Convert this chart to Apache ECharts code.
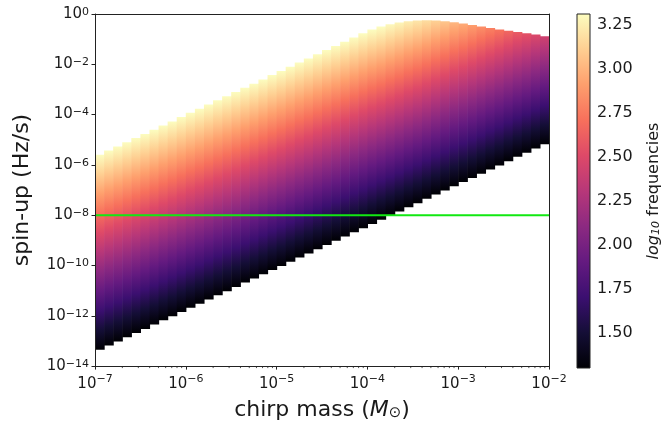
<!DOCTYPE html>
<html>
<head>
<meta charset="utf-8">
<script src="https://cdn.jsdelivr.net/npm/echarts@6/dist/echarts.min.js"></script>
<style>
html, body { margin: 0; padding: 0; background: #fff; }
#chart { width: 663px; height: 426px; }
</style>
</head>
<body>
<div id="chart"></div>
<script>
// log10 chirp mass, left edge of every column (0.1 dex wide)
var massLeft = [-7.0, -6.9, -6.8, -6.7, -6.6, -6.5, -6.4, -6.3, -6.2, -6.1,
  -6.0, -5.9, -5.8, -5.7, -5.6, -5.5, -5.4, -5.3, -5.2, -5.1,
  -5.0, -4.9, -4.8, -4.7, -4.6, -4.5, -4.4, -4.3, -4.2, -4.1,
  -4.0, -3.9, -3.8, -3.7, -3.6, -3.5, -3.4, -3.3, -3.2, -3.1,
  -3.0, -2.9, -2.8, -2.7, -2.6, -2.5, -2.4, -2.3, -2.2, -2.1];
var massStep = 0.1;
// log10 spin-up at the bottom of each column (lowest frequency)
var spinLow = [-13.35, -13.18, -13.02, -12.85, -12.68, -12.52, -12.35, -12.18, -12.02, -11.85,
  -11.68, -11.52, -11.35, -11.18, -11.02, -10.85, -10.68, -10.52, -10.35, -10.18,
  -10.02, -9.85, -9.68, -9.52, -9.35, -9.18, -9.02, -8.85, -8.68, -8.52,
  -8.35, -8.18, -8.02, -7.85, -7.68, -7.52, -7.35, -7.18, -7.02, -6.85,
  -6.68, -6.52, -6.35, -6.18, -6.02, -5.85, -5.68, -5.52, -5.35, -5.18];
// log10 spin-up at the top of each column
var spinHigh = [-5.60, -5.43, -5.27, -5.10, -4.93, -4.77, -4.60, -4.43, -4.27, -4.10,
  -3.93, -3.77, -3.60, -3.43, -3.27, -3.10, -2.93, -2.77, -2.60, -2.43,
  -2.27, -2.10, -1.93, -1.77, -1.60, -1.43, -1.27, -1.10, -0.93, -0.77,
  -0.62, -0.50, -0.41, -0.34, -0.29, -0.26, -0.25, -0.26, -0.29, -0.33,
  -0.38, -0.44, -0.50, -0.56, -0.62, -0.67, -0.72, -0.77, -0.82, -0.88];
// log10 frequency at the top of each column (bottom is always freqMin)
var freqHigh = [3.31, 3.31, 3.31, 3.31, 3.31, 3.31, 3.31, 3.31, 3.31, 3.31,
  3.31, 3.31, 3.31, 3.31, 3.31, 3.31, 3.31, 3.31, 3.31, 3.31,
  3.31, 3.31, 3.31, 3.31, 3.31, 3.31, 3.31, 3.31, 3.31, 3.31,
  3.31, 3.31, 3.29, 3.27, 3.24, 3.21, 3.17, 3.12, 3.07, 3.01,
  2.96, 2.90, 2.84, 2.78, 2.72, 2.66, 2.60, 2.55, 2.49, 2.43];
var freqMin = 1.3;
var freqMax = 3.31;
var spinCut = -8;
var cbTicks = [1.5, 1.75, 2.0, 2.25, 2.5, 2.75, 3.0, 3.25];

var magma = ['#000004', '#140e36', '#3b0f70', '#641a80', '#8c2981', '#b73779',
  '#de4968', '#f7705c', '#fe9f6d', '#fecf92', '#fcfdbf'];

function hexRgb(h) {
  return [parseInt(h.substr(1, 2), 16), parseInt(h.substr(3, 2), 16), parseInt(h.substr(5, 2), 16)];
}
function magmaAt(t) {
  t = Math.max(0, Math.min(1, t));
  var p = t * (magma.length - 1);
  var i = Math.min(Math.floor(p), magma.length - 2);
  var f = p - i;
  var a = hexRgb(magma[i]), b = hexRgb(magma[i + 1]);
  return 'rgb(' + Math.round(a[0] + (b[0] - a[0]) * f) + ',' +
    Math.round(a[1] + (b[1] - a[1]) * f) + ',' + Math.round(a[2] + (b[2] - a[2]) * f) + ')';
}
// vertical gradient from value vHi (top) down to freqMin (bottom)
function columnFill(vHi) {
  var tHi = (vHi - freqMin) / (freqMax - freqMin);
  var stops = [{offset: 0, color: magmaAt(tHi)}];
  for (var k = magma.length - 1; k >= 0; k--) {
    var t = k / (magma.length - 1);
    if (t < tHi) {
      stops.push({offset: 1 - t / tHi, color: magma[k]});
    }
  }
  return new echarts.graphic.LinearGradient(0, 0, 0, 1, stops);
}

var heatData = massLeft.map(function(m, i) {
  return [m, spinLow[i], spinHigh[i], freqHigh[i]];
});

var minorTicks = [];
for (var n = -7; n < -2; n++) {
  for (var k = 2; k < 10; k++) minorTicks.push([n + Math.log10(k)]);
}

var textColor = '#1a1a1a';
var font = 'DejaVu Sans';

function powLabel(v) {
  var e = Math.round(v);
  return '10{sup|' + (e < 0 ? '\u2212' + (-e) : e) + '}';
}
var powRich = {
  sup: {fontSize: 11, fontFamily: font, color: textColor, verticalAlign: 'top', lineHeight: 12}
};

var myChart = echarts.init(document.getElementById('chart'), null, {renderer: 'canvas'});
var option = {
  animation: false,
  backgroundColor: '#fff',
  textStyle: {fontFamily: font},
  grid: [
    {left: 95, top: 14, width: 454, height: 354, show: false},
    {left: 577, top: 14, width: 18, height: 354, show: false}
  ],
  xAxis: [
    {
      gridIndex: 0, type: 'value', min: -7, max: -2, interval: 1, z: 5,
      axisLine: {onZero: false, lineStyle: {color: '#222', width: 1}},
      axisTick: {length: 3.5, lineStyle: {color: '#222', width: 1}},
      axisLabel: {formatter: powLabel, rich: powRich, fontSize: 15, color: textColor, margin: 8, lineHeight: 20},
      splitLine: {show: false},
      name: 'chirp mass ({i|M}{sub|\u2299})',
      nameLocation: 'middle', nameGap: 30,
      nameTextStyle: {
        fontSize: 22, color: textColor, fontFamily: font,
        rich: {
          i: {fontSize: 22, fontStyle: 'italic', color: textColor, fontFamily: font},
          sub: {fontSize: 15, color: textColor, fontFamily: font, verticalAlign: 'bottom', lineHeight: 18}
        }
      }
    },
    {
      gridIndex: 0, type: 'value', min: -7, max: -2, position: 'top', z: 5,
      axisLine: {onZero: false, lineStyle: {color: '#222', width: 1}},
      axisTick: {show: false}, axisLabel: {show: false}, splitLine: {show: false}
    },
    {gridIndex: 1, type: 'value', min: 0, max: 1, show: false}
  ],
  yAxis: [
    {
      gridIndex: 0, type: 'value', min: -14, max: 0, interval: 2, z: 5,
      axisLine: {show: true, onZero: false, lineStyle: {color: '#222', width: 1}},
      axisTick: {show: true, length: 3.5, lineStyle: {color: '#222', width: 1}},
      axisLabel: {formatter: powLabel, rich: powRich, fontSize: 15, color: textColor, margin: 6},
      splitLine: {show: false},
      name: 'spin-up (Hz/s)', nameLocation: 'middle', nameGap: 62, nameRotate: 90,
      nameTextStyle: {fontSize: 22, color: textColor, fontFamily: font}
    },
    {
      gridIndex: 0, type: 'value', min: -14, max: 0, position: 'right', z: 5,
      axisLine: {show: true, onZero: false, lineStyle: {color: '#222', width: 1}},
      axisTick: {show: false}, axisLabel: {show: false}, splitLine: {show: false}
    },
    {
      gridIndex: 1, type: 'value', min: freqMin, max: freqMax, position: 'right',
      axisLine: {show: false},
      axisTick: {show: true, length: 3.5, customValues: cbTicks, lineStyle: {color: '#222', width: 1}},
      axisLabel: {
        customValues: cbTicks, fontSize: 16, color: textColor, margin: 7,
        formatter: function(v) { return v.toFixed(2); }
      },
      splitLine: {show: false},
      name: '{i|log}{sub|10} frequencies', nameLocation: 'middle', nameRotate: 90, nameGap: 56,
      nameTextStyle: {
        fontSize: 16, color: textColor, fontFamily: font, verticalAlign: 'top',
        rich: {
          i: {fontSize: 16, fontStyle: 'italic', color: textColor, fontFamily: font},
          sub: {fontSize: 11, fontStyle: 'italic', color: textColor, fontFamily: font, verticalAlign: 'bottom'}
        }
      }
    }
  ],
  series: [
    {
      type: 'custom', xAxisIndex: 0, yAxisIndex: 0, clip: true, silent: true, z: 2,
      data: heatData,
      encode: {x: 0, y: 1},
      renderItem: function(params, api) {
        var x0 = api.value(0), lo = api.value(1), hi = api.value(2), vHi = api.value(3);
        var p0 = api.coord([x0, hi]);
        var p1 = api.coord([x0 + massStep, lo]);
        return {
          type: 'rect',
          shape: {x: p0[0], y: p0[1], width: p1[0] - p0[0] + 0.6, height: p1[1] - p0[1]},
          style: {fill: columnFill(vHi)}
        };
      }
    },
    {
      type: 'line', xAxisIndex: 0, yAxisIndex: 0, z: 4, silent: true,
      data: [[-7, spinCut], [-2, spinCut]],
      symbol: 'none',
      lineStyle: {color: '#12e812', width: 2}
    },
    {
      type: 'custom', xAxisIndex: 0, yAxisIndex: 0, silent: true, z: 5,
      data: minorTicks,
      encode: {x: 0},
      renderItem: function(params, api) {
        var p = api.coord([api.value(0), -14]);
        return {
          type: 'line',
          shape: {x1: p[0], y1: p[1], x2: p[0], y2: p[1] + 2},
          style: {stroke: '#222', lineWidth: 0.8}
        };
      }
    },
    {
      type: 'custom', xAxisIndex: 2, yAxisIndex: 2, silent: true,
      data: [[0, freqMin, freqMax]],
      renderItem: function(params, api) {
        var p0 = api.coord([0, api.value(2)]);
        var p1 = api.coord([1, api.value(1)]);
        return {
          type: 'rect',
          shape: {x: p0[0], y: p0[1], width: p1[0] - p0[0], height: p1[1] - p0[1]},
          style: {fill: columnFill(freqMax), stroke: '#222', lineWidth: 1}
        };
      }
    }
  ]
};
myChart.setOption(option);
</script>
</body>
</html>
